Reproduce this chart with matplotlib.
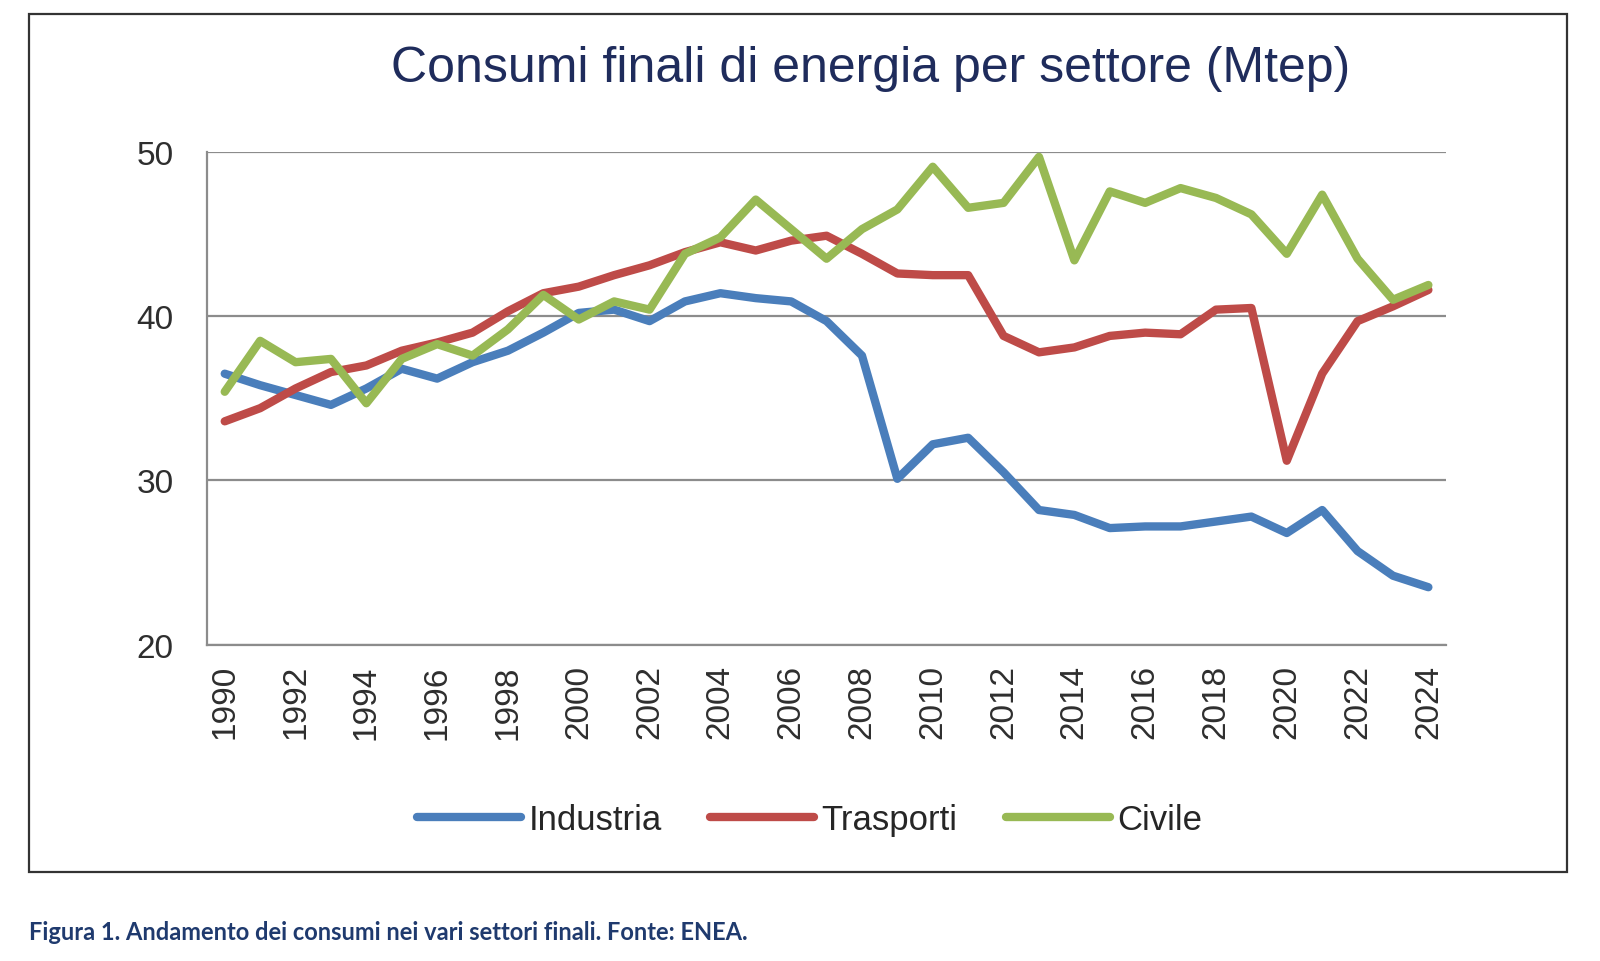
import matplotlib
matplotlib.use("Agg")
import matplotlib.pyplot as plt
from matplotlib.patches import Rectangle

years = list(range(1990, 2025))
industria = [36.5, 35.8, 35.2, 34.6, 35.6, 36.8, 36.2, 37.2, 37.9, 39.0,
             40.2, 40.4, 39.7, 40.9, 41.4, 41.1, 40.9, 39.7, 37.6, 30.1,
             32.2, 32.6, 30.5, 28.2, 27.9, 27.1, 27.2, 27.2, 27.5, 27.8,
             26.8, 28.2, 25.7, 24.2, 23.5]
trasporti = [33.6, 34.4, 35.6, 36.6, 37.0, 37.9, 38.4, 39.0, 40.3, 41.4,
             41.8, 42.5, 43.1, 43.9, 44.5, 44.0, 44.6, 44.9, 43.8, 42.6,
             42.5, 42.5, 38.8, 37.8, 38.1, 38.8, 39.0, 38.9, 40.4, 40.5,
             31.2, 36.5, 39.7, 40.6, 41.6]
civile = [35.4, 38.5, 37.2, 37.4, 34.7, 37.4, 38.3, 37.6, 39.2, 41.3,
          39.8, 40.9, 40.4, 43.8, 44.8, 47.1, 45.3, 43.5, 45.3, 46.5,
          49.1, 46.6, 46.9, 49.7, 43.4, 47.6, 46.9, 47.8, 47.2, 46.2,
          43.8, 47.4, 43.5, 41.0, 41.9]
series_names = ["Industria", "Trasporti", "Civile"]
series_colors = ["#4a7ebb", "#be4b48", "#98b954"]
y_ticks = [20, 30, 40, 50]
x_ticks = list(range(1990, 2025, 2))

title = "Consumi finali di energia per settore (Mtep)"
caption = "Figura 1. Andamento dei consumi nei vari settori finali. Fonte: ENEA."

plt.rcParams['font.family'] = ['Liberation Sans', 'DejaVu Sans']

fig = plt.figure(figsize=(16, 9.62), dpi=100)
ax = fig.add_axes([0.1294, 0.3288, 0.7744, 0.5122])

grid_col = "#8c8c8c"
for name, vals, col in zip(series_names, [industria, trasporti, civile], series_colors):
    ax.plot(years, vals, color=col, lw=6.0, label=name,
            solid_joinstyle='round', solid_capstyle='round', zorder=3)

ax.set_xlim(1989.5, 2024.5)
ax.set_ylim(20, 50)
ax.set_yticks(y_ticks)
ax.set_xticks(x_ticks)
ax.set_xticklabels([str(y) for y in x_ticks], rotation=90)
ax.yaxis.grid(True, color=grid_col, lw=1.6, zorder=1)
ax.set_axisbelow(True)
for s in ["top", "right"]:
    ax.spines[s].set_visible(False)
ax.spines["left"].set_color(grid_col)
ax.spines["left"].set_linewidth(1.6)
ax.spines["bottom"].set_color(grid_col)
ax.spines["bottom"].set_linewidth(1.6)
ax.tick_params(axis='both', length=0, labelsize=24, colors="#2e2e2e")
ax.tick_params(axis='y', pad=24)
ax.tick_params(axis='x', pad=14)

fig.text(0.544, 0.928, title, ha='center', va='center', fontsize=36, color="#1f2c5c")

leg = fig.legend(loc='center', bbox_to_anchor=(0.506, 0.1466), ncol=3, frameon=False,
                 fontsize=25, handlelength=3.0, handletextpad=0.2, columnspacing=1.4)
for t in leg.get_texts():
    t.set_color("#262626")

# outer frame
fig.patches.append(Rectangle((29 / 1600, 1 - 873 / 962), (1567 - 29) / 1600, (873 - 15) / 962,
                             transform=fig.transFigure, fill=False, edgecolor="#333333", lw=1.6))

fig.text(29 / 1600, 1 - 933 / 962, caption, ha='left', va='center', fontsize=17,
         fontweight='bold', color="#1f3a6e", family=['Lato', 'DejaVu Sans'])

fig.savefig("out.png", dpi=100)
